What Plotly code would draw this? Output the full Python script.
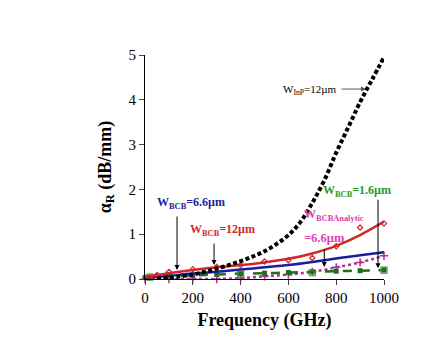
import plotly.graph_objects as go

# ---- data ----
freq = [0, 50, 100, 150, 200, 250, 300, 350, 400, 450, 500, 550, 600, 650, 700, 750, 800, 850, 900, 950, 1000]
inp_12 = [None, 0.005, 0.025, 0.06, 0.10, 0.16, 0.23, 0.31, 0.40, 0.50, 0.62, 0.78, 0.98, 1.27, 1.70, 2.20, 2.82, 3.38, 3.95, 4.45, 4.95]

f100 = [0, 100, 200, 300, 400, 500, 600, 700, 800, 900, 1000]
bcb12_fit = [0.05, 0.13, 0.20, 0.26, 0.31, 0.37, 0.45, 0.57, 0.74, 0.98, 1.28]
bcb66_fit = [0.02, 0.07, 0.12, 0.16, 0.21, 0.26, 0.31, 0.38, 0.46, 0.53, 0.60]
bcb16_fit = [0.03, 0.06, 0.08, 0.10, 0.12, 0.13, 0.145, 0.16, 0.175, 0.185, 0.20]
analytic_66 = [0.0, 0.0, 0.0, 0.0, 0.02, 0.06, 0.10, 0.16, 0.26, 0.37, 0.52]

bcb12_f = [20, 50, 100, 200, 300, 400, 500, 600, 700, 800, 900, 1000]
bcb12_pts = [0.04, 0.09, 0.16, 0.22, 0.27, 0.31, 0.39, 0.42, 0.47, 0.73, 1.15, 1.24]

bcb16_open_f = [20, 100, 400, 700, 1000]
bcb16_open = [0.04, 0.07, 0.11, 0.14, 0.20]

x_ticks = [0, 200, 400, 600, 800, 1000]
y_ticks = [0, 1, 2, 3, 4, 5]

FONT = "Liberation Serif, 'DejaVu Serif', serif"
RED = "#d02828"
BLUE = "#1c1c9c"
GREEN = "#1e6e1e"
GREEN_T = "#2a9a2a"
MAG = "#b0309a"
MAG_T = "#e040b0"

fig = go.Figure()

fig.add_trace(go.Scatter(x=f100, y=analytic_66, mode="lines+markers",
                         line=dict(color=MAG, width=2.5, dash="dot", shape="spline"),
                         marker=dict(symbol="cross-thin", size=6, line=dict(color=MAG, width=1.5)),
                         cliponaxis=False))
fig.add_trace(go.Scatter(x=f100, y=bcb16_fit, mode="lines+markers",
                         line=dict(color=GREEN, width=2.5, dash="dash", shape="spline"),
                         marker=dict(symbol="square", size=5, color=GREEN),
                         cliponaxis=False))
fig.add_trace(go.Scatter(x=bcb16_open_f, y=bcb16_open, mode="markers",
                         marker=dict(symbol="square-open", size=6, color="#3a9a3a", line=dict(width=1.2)),
                         cliponaxis=False))
fig.add_trace(go.Scatter(x=f100, y=bcb66_fit, mode="lines",
                         line=dict(color=BLUE, width=2.5, shape="spline"), cliponaxis=False))
fig.add_trace(go.Scatter(x=f100, y=bcb12_fit, mode="lines",
                         line=dict(color=RED, width=2.5, shape="spline"), cliponaxis=False))
fig.add_trace(go.Scatter(x=bcb12_f, y=bcb12_pts, mode="markers",
                         marker=dict(symbol="diamond-open", size=4, color=RED, line=dict(width=1.2)),
                         cliponaxis=False))
fig.add_trace(go.Scatter(x=freq, y=inp_12, mode="lines",
                         line=dict(color="black", width=4, dash="4px,2.5px", shape="spline"),
                         cliponaxis=False))

def arrow(x, y, ax, ay, color="black"):
    fig.add_annotation(x=x, y=y, ax=ax, ay=ay, xref="x", yref="y", text="",
                       showarrow=True, arrowhead=2, arrowsize=1, arrowwidth=1, arrowcolor=color)

def label(x, y, text, color, size=11, bold=True, xanchor="left"):
    t = "<b>" + text + "</b>" if bold else text
    fig.add_annotation(x=x, y=y, xref="x", yref="y", text=t, showarrow=False,
                       xanchor=xanchor, yanchor="middle",
                       font=dict(family=FONT, size=size, color=color))

arrow(925, 4.24, -26, 0, "#555555")
label(812, 4.22, "W<sub>InP</sub>=12µm", "black", 11, bold=False, xanchor="right")

arrow(975, 0.24, 0, -70)
label(738, 1.97, "W<sub>BCB</sub>=1.6µm", GREEN_T, 12)

arrow(750, 0.27, 0, -19)
label(655, 1.42, "W<sub>BCBAnalytic</sub>", MAG_T, 12)
label(655, 0.92, "=6.6µm", MAG_T, 12.5)

arrow(289, 0.31, 0, -23)
label(178, 1.1, "W<sub>BCB</sub>=12µm", RED, 12)

arrow(134, 0.20, 0, -55)
label(42, 1.7, "W<sub>BCB</sub>=6.6µm", BLUE, 12)

fig.update_layout(
    width=435, height=341,
    margin=dict(l=145, r=51, t=55, b=62),
    paper_bgcolor="white", plot_bgcolor="white",
    showlegend=False,
    font=dict(family=FONT, color="black"),
)
fig.update_xaxes(range=[0, 1000], tickvals=x_ticks, ticks="outside", ticklen=5, tickwidth=1,
                 showline=True, linecolor="black", linewidth=1, showgrid=False, zeroline=False,
                 tickfont=dict(family=FONT, size=15, color="black"),
                 title=dict(text="<b>Frequency (GHz)</b>", font=dict(family=FONT, size=18), standoff=8))
fig.update_yaxes(range=[0, 5], tickvals=y_ticks, ticks="outside", ticklen=5, tickwidth=1,
                 showline=True, linecolor="black", linewidth=1, showgrid=False, zeroline=False,
                 tickfont=dict(family=FONT, size=15, color="black"),
                 title=dict(text="<b>α<sub>R</sub> (dB/mm)</b>", font=dict(family=FONT, size=18), standoff=12))

fig.write_html("out.html")
